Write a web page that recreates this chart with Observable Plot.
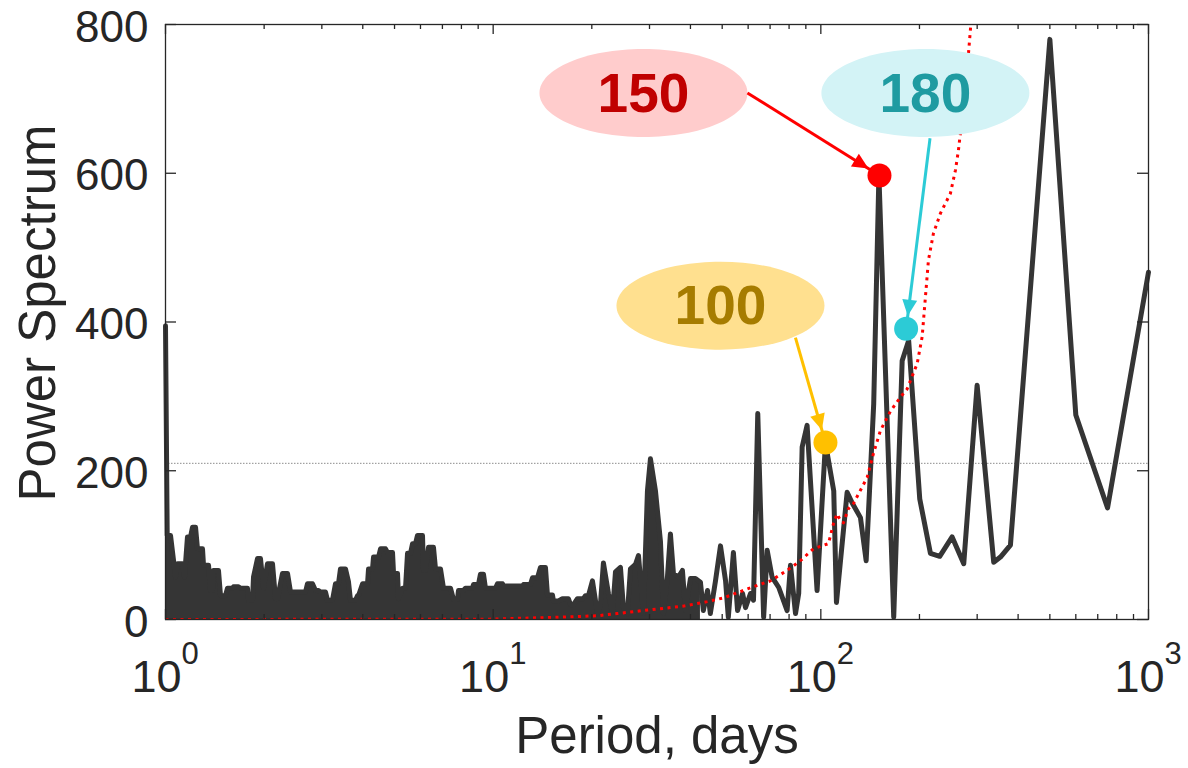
<!DOCTYPE html>
<html>
<head>
<meta charset="utf-8">
<script src="https://cdn.jsdelivr.net/npm/d3@7"></script>
<script src="https://cdn.jsdelivr.net/npm/@observablehq/plot@0.6"></script>
<style>
  html, body { margin: 0; padding: 0; background: #ffffff; }
</style>
</head>
<body>
<div id="chart"></div>
<script>
// ---------- data ----------
const periods = [1.000, 1.012, 1.036, 1.073, 1.088, 1.127, 1.143, 1.167, 1.192, 1.209, 1.235, 1.252, 1.297, 1.306, 1.353, 1.372, 1.391, 1.401, 1.451, 1.472, 1.524, 1.546, 1.601, 1.612, 1.670, 1.694, 1.779, 1.792, 1.843, 1.856, 1.909, 1.949, 1.991, 2.048, 2.121, 2.166, 2.196, 2.275, 2.357, 2.407, 2.674, 2.712, 2.809, 2.869, 2.930, 2.972, 3.078, 3.121, 3.233, 3.302, 3.372, 3.420, 3.542, 3.617, 3.669, 3.800, 3.854, 3.881, 3.994, 4.136, 4.165, 4.284, 4.314, 4.468, 4.532, 4.694, 4.760, 4.930, 4.965, 5.106, 5.142, 5.289, 5.401, 5.478, 5.595, 5.674, 5.795, 5.876, 6.086, 6.129, 6.216, 6.348, 6.575, 6.668, 6.906, 7.054, 7.408, 7.566, 7.782, 7.837, 8.117, 8.231, 8.646, 8.707, 9.019, 9.146, 9.341, 9.474, 10.163, 10.307, 10.676, 10.751, 12.287, 12.373, 12.996, 13.180, 13.651, 13.942, 14.440, 14.645, 15.168, 15.275, 15.821, 16.272, 16.972, 17.212, 17.579, 18.080, 18.860, 19.126, 19.534, 20.09, 20.81, 21.25, 21.70, 22.48, 23.12, 23.62, 24.46, 24.98, 25.69, 26.24, 27.18, 27.76, 28.75, 29.57, 30.20, 31.28, 32.40, 33.09, 34.03, 34.75, 35.49, 36.76, 37.81, 38.62, 40.00, 41.43, 42.91, 43.8, 45.1, 46.0, 47.7, 49.4, 51.2, 52.2, 54.1, 55.7, 57.7, 58.9, 61.0, 62.3, 64.2, 66.9, 68.6, 71.0, 74.4, 78.9, 80.8, 83.7, 85.6, 87.7, 90.8, 97.4, 103.3, 109.5, 111.6, 120.3, 124.9, 132.1, 137.5, 145.0, 150.4, 166.9, 177.1, 185.4, 200.4, 216.0, 230.6, 251.6, 273.0, 299.9, 337.0, 353.3, 379.0, 500, 600, 750, 1000];
const power = [395, 113, 113, 57, 75, 75, 57, 111, 111, 124, 124, 95, 95, 73, 73, 39, 39, 66, 66, 32, 32, 42, 42, 44, 44, 42, 42, 26, 26, 57, 82, 82, 42, 75, 75, 28, 28, 62, 62, 37, 37, 48, 48, 39, 39, 37, 37, 26, 26, 48, 48, 68, 68, 51, 26, 26, 32, 32, 48, 48, 68, 68, 84, 84, 95, 95, 90, 90, 62, 62, 28, 42, 42, 89, 89, 102, 102, 113, 113, 66, 66, 97, 97, 68, 68, 42, 42, 27, 27, 39, 39, 42, 42, 47, 47, 61, 61, 42, 42, 48, 48, 45, 45, 47, 47, 56, 56, 70, 70, 33, 33, 25, 25, 28, 28, 20, 20, 28, 28, 32, 32, 52, 8, 20, 76, 35, 8, 64, 70, 16, 8, 68, 74, 86, 8, 173, 216, 173, 105, 8, 57, 115, 62, 57, 66, 12, 55, 55, 50, 12, 39, 8, 52, 99, 52, 3, 90, 12, 35, 16, 35, 26, 277, 3, 93, 57, 43, 12, 73, 8, 35, 232, 261, 39, 237, 173, 23, 171, 156, 137, 79, 290, 597, 3, 348, 375, 162, 89, 85, 111, 75, 315, 77, 84, 100, 780, 275, 150, 467];
const densePeriodLimit = 43;

const sigPeriods = [1, 9.8, 15.7, 20.8, 23.9, 28.7, 33.1, 38.1, 45.0, 50.4, 59.6, 70.2, 78.9, 86.6, 94.9, 105.5, 109.3, 112.1, 114.8, 117.2, 121.4, 125.8, 138.5, 144.7, 152.0, 163.1, 175.0, 183.4, 196.8, 203.8, 208.5, 213.0, 220.6, 231.7, 248.6, 257.5, 263.0, 272.4, 282.1, 288.2];
const sigPower = [0, 0.5, 3, 5, 8, 12, 15, 18, 24, 29, 41, 52, 66, 79, 95, 102, 129, 142, 133, 130, 149, 156, 191, 223, 254, 280, 299, 310, 344, 380, 433, 483, 519, 546, 573, 604, 631, 690, 760, 810];

const thresholdLevel = [210];

const xTicks = [1, 10, 100, 1000];
const xTickBase = ["10", "10", "10", "10"];
const xTickExp = ["0", "1", "2", "3"];
const xMinorTicks = [2, 3, 4, 5, 6, 7, 8, 9, 20, 30, 40, 50, 60, 70, 80, 90, 200, 300, 400, 500, 600, 700, 800, 900];
const yTicks = [0, 200, 400, 600, 800];

const calloutLabels = ["150", "180", "100"];
const bubblePeriod = [28.75, 208.5, 49.4];
const bubblePower = [708, 708, 422];
const arrowStartPeriod = [59.7, 215.4, 83.66];
const arrowStartPower = [708, 647, 379];
const markerPeriod = [151, 182.1, 103.3];
const markerPower = [597, 391, 238];

const bubbleFill = ["#ffcccc", "#d3f3f6", "#ffe08f"];
const labelColor = ["#c00000", "#1f9ba1", "#a67c00"];
const arrowColor = ["#ff0000", "#2ccbd6", "#ffc000"];

// ---------- layout ----------
const W = 1188, H = 768, mL = 165, mR = 40, mT = 24, mB = 149;
const plotW = W - mL - mR, plotH = H - mT - mB;
const ink = "#262626";

const series = periods.map((p, i) => ({p, v: power[i]}));
const dense = series.filter(d => d.p <= densePeriodLimit);
const sig = sigPeriods.map((p, i) => ({p, v: sigPower[i]}));

const sx = Plot.scale({x: {type: "log", domain: [1, 1000], range: [mL, W - mR]}});
const sy = Plot.scale({y: {type: "linear", domain: [0, 800], range: [H - mB, mT]}});

const ellipseSymbol = {
  draw(ctx) {
    const rx = 104, ry = 44, k = 0.5523;
    ctx.moveTo(rx, 0);
    ctx.bezierCurveTo(rx, k * ry, k * rx, ry, 0, ry);
    ctx.bezierCurveTo(-k * rx, ry, -rx, k * ry, -rx, 0);
    ctx.bezierCurveTo(-rx, -k * ry, -k * rx, -ry, 0, -ry);
    ctx.bezierCurveTo(k * rx, -ry, rx, -k * ry, rx, 0);
    ctx.closePath();
  }
};
const headSymbol = {
  draw(ctx) {
    ctx.moveTo(0, 13);
    ctx.lineTo(-7.5, 29);
    ctx.lineTo(7.5, 29);
    ctx.closePath();
  }
};

const bubbleMarks = calloutLabels.flatMap((label, i) => [
  Plot.dot([label], {x: () => bubblePeriod[i], y: () => bubblePower[i], symbol: ellipseSymbol, fill: bubbleFill[i], stroke: "none"}),
  Plot.text([label], {x: () => bubblePeriod[i], y: () => bubblePower[i], text: d => d, fill: labelColor[i], fontSize: 55, fontWeight: "bold", dy: 1})
]);
const arrowMarks = calloutLabels.flatMap((label, i) => {
  const a = [{x1: arrowStartPeriod[i], y1: arrowStartPower[i], x2: markerPeriod[i], y2: markerPower[i]}];
  const ddx = sx.apply(markerPeriod[i]) - sx.apply(arrowStartPeriod[i]);
  const ddy = sy.apply(markerPower[i]) - sy.apply(arrowStartPower[i]);
  const ang = Math.atan2(ddx, -ddy) * 180 / Math.PI;
  return [
    Plot.link(a, {x1: "x1", y1: "y1", x2: "x2", y2: "y2", stroke: arrowColor[i], strokeWidth: 3}),
    Plot.dot(a, {x: "x2", y: "y2", symbol: headSymbol, rotate: ang, fill: arrowColor[i], stroke: "none"}),
    Plot.dot(a, {x: "x2", y: "y2", r: 12, fill: arrowColor[i], stroke: "none"})
  ];
});

const chart = Plot.plot({
  width: W,
  height: H,
  marginLeft: mL,
  marginRight: mR,
  marginTop: mT,
  marginBottom: mB,
  x: {type: "log", domain: [1, 1000], axis: null},
  y: {domain: [0, 800], axis: null},
  style: {fontFamily: "'Liberation Sans', Arial, Helvetica, sans-serif", color: ink, background: "#ffffff"},
  marks: [
    Plot.ruleY(thresholdLevel, {stroke: "#8c8c8c", strokeWidth: 1, strokeDasharray: "1.5,1.5"}),
    Plot.areaY(dense, {x: "p", y: "v", fill: "#353535"}),
    Plot.line(series, {x: "p", y: "v", stroke: "#353535", strokeWidth: 5, strokeLinejoin: "round"}),
    Plot.line(sig, {x: "p", y: "v", stroke: "#ff0000", strokeWidth: 3, strokeDasharray: "3,4.5", strokeLinecap: "butt", clip: true}),
    ...bubbleMarks,
    ...arrowMarks,
    Plot.frame({stroke: ink, strokeWidth: 1.3}),
    // inward ticks (MATLAB style box)
    Plot.tickX(xTicks, {x: d => d, insetTop: plotH - 10, stroke: ink, strokeWidth: 1.3}),
    Plot.tickX(xTicks, {x: d => d, insetBottom: plotH - 10, stroke: ink, strokeWidth: 1.3}),
    Plot.tickX(xMinorTicks, {x: d => d, insetTop: plotH - 5, stroke: ink, strokeWidth: 1.3}),
    Plot.tickX(xMinorTicks, {x: d => d, insetBottom: plotH - 5, stroke: ink, strokeWidth: 1.3}),
    Plot.tickY(yTicks, {y: d => d, insetRight: plotW - 11, stroke: ink, strokeWidth: 1.3}),
    Plot.tickY(yTicks, {y: d => d, insetLeft: plotW - 11, stroke: ink, strokeWidth: 1.3}),
    // tick labels
    Plot.text(yTicks, {y: d => d, text: d => String(d), frameAnchor: "left", textAnchor: "end", dx: -17, dy: 3, fontSize: 44, fill: ink}),
    Plot.text(xTicks, {x: d => d, text: (d, i) => xTickBase[i], frameAnchor: "bottom", textAnchor: "end", lineAnchor: "bottom", dx: 16, dy: 72, fontSize: 45, fill: ink}),
    Plot.text(xTicks, {x: d => d, text: (d, i) => xTickExp[i], frameAnchor: "bottom", textAnchor: "start", lineAnchor: "bottom", dx: 16, dy: 44, fontSize: 31, fill: ink}),
    // axis titles
    Plot.text(["Power Spectrum"], {frameAnchor: "left", textAnchor: "middle", lineAnchor: "middle", rotate: -90, dx: -127, dy: -9, fontSize: 51, fill: ink}),
    Plot.text(["Period, days"], {frameAnchor: "bottom", textAnchor: "middle", lineAnchor: "bottom", dy: 133, fontSize: 51, fill: ink})
  ]
});
document.getElementById("chart").appendChild(chart);
</script>
</body>
</html>
